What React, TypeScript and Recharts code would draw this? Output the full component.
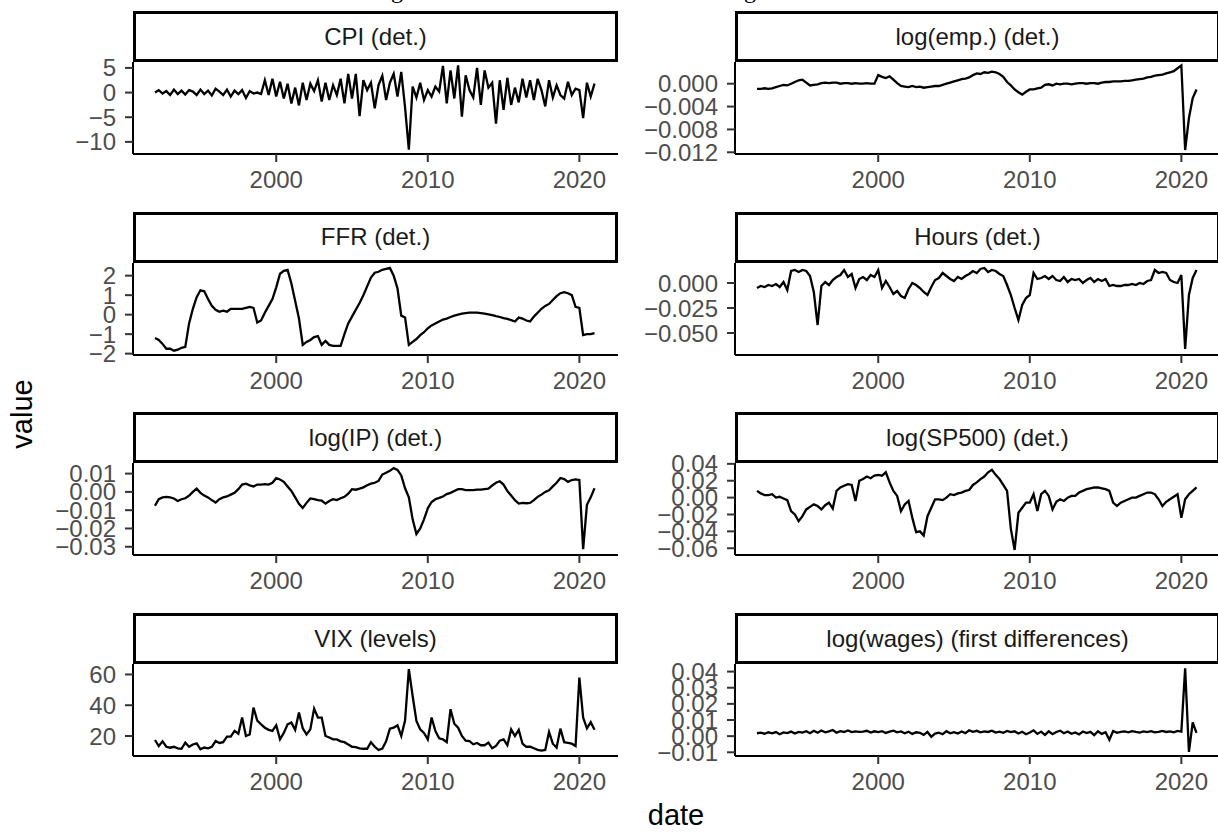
import { LineChart, Line, XAxis, YAxis } from 'recharts';

// quarterly readings, first point = 1992.0
const START_YEAR = 1992;
const STEP = 0.25;

const cpi = [
  0, 0.5, -0.2, 0.3,
  -0.5, 0.6, -0.3, 0.4,
  -0.4, 0.5, 0.2, -0.5,
  0.6, -0.3, 0.4, -0.6,
  0.8, 0.2, -0.5, 0.6,
  -0.8, 0.4, -0.3, 0.5,
  -1.1, 0.3, -0.2, 0,
  -0.3, 2.5, -0.5, 2.8,
  -0.8, 2.2, -1.2, 1.8,
  -2.2, 1.0, -2.6, 2.0,
  -1.5, 1.8, 0.3, 2.5,
  -1.8, 2.0, -1.5, 1.5,
  -0.5, 2.8, -2.2, 3.8,
  -1.2, 3.8, -4.8, 2.5,
  0.5, 2.0, -3.2, 1.5,
  3.4, -1.5, 2.0, 3.8,
  -0.8, 4.2, -3.0, -11.6,
  1.2, -1.0, 2.0, -1.5,
  0.5, -0.8, 1.2, 0.2,
  5.4, -2.2, 4.5, -1.2,
  5.5, -4.9, 3.5, 0.5,
  -1.0, 5.0, -2.5, 4.5,
  1.0, 2.0, -6.3, 2.5,
  -3.5, 3.0, -2.5, 1.0,
  -2.0, 2.8, -1.0, 2.5,
  -1.5, 2.8, 0.5, -2.8,
  2.5, -1.0, 1.5, -0.5,
  -1.2, 2.2, -0.5, 0.8,
  0.5, -5.2, 2.0, -0.8,
  1.8,
];

const emp = [
  -0.0009, -0.0009, -0.0008, -0.0009,
  -0.0008, -0.0006, -0.0004, -0.0002,
  -0.0003, 0.0, 0.0003, 0.0006,
  0.0007, 0.0002, -0.0003, -0.0002,
  -0.0001, 0.0001, 0.0002, 0.0001,
  0.0002, 0.0002, 0.0, 0.0001,
  0.0001, 0.0, 0.0001, 0.0,
  0.0, 0.0001, 0.0, 0.0,
  0.0015, 0.0012, 0.001, 0.0013,
  0.0007, 0.0001, -0.0004, -0.0005,
  -0.0006, -0.0004, -0.0006, -0.0005,
  -0.0007, -0.0006, -0.0005, -0.0004,
  -0.0004, -0.0002, 0.0, 0.0002,
  0.0004, 0.0006, 0.0008, 0.0009,
  0.0011, 0.0015, 0.0018, 0.0017,
  0.002, 0.0019, 0.0021, 0.002,
  0.0017, 0.0012, 0.0003, -0.0003,
  -0.001, -0.0015, -0.0019, -0.0014,
  -0.001, -0.001, -0.0008, -0.0007,
  -0.0002, -0.0001, -0.0003, 0.0,
  -0.0001, 0.0, 0.0, -0.0001,
  0.0, 0.0001, 0.0001, 0.0,
  0.0001, 0.0001, 0.0, 0.0002,
  0.0003, 0.0003, 0.0004, 0.0004,
  0.0004, 0.0005, 0.0005, 0.0006,
  0.0007, 0.0008, 0.0009, 0.0011,
  0.0012, 0.0014, 0.0015, 0.0016,
  0.0018, 0.002, 0.0022, 0.0027,
  0.0032, -0.0116, -0.006, -0.0025,
  -0.001,
];

const ffr = [
  -1.2, -1.3, -1.5, -1.75,
  -1.75, -1.85, -1.8, -1.7,
  -1.65, -0.45, 0.3, 0.9,
  1.25, 1.2, 0.8, 0.45,
  0.25, 0.15, 0.2, 0.15,
  0.3, 0.3, 0.3, 0.3,
  0.35, 0.4, 0.35, -0.4,
  -0.3, 0.1, 0.45, 0.8,
  1.4, 2.1, 2.25, 2.3,
  1.6, 0.7, -0.2, -1.55,
  -1.4, -1.3, -1.15, -1.1,
  -1.55, -1.35, -1.55, -1.6,
  -1.6, -1.6, -1.0, -0.45,
  -0.1, 0.25, 0.6, 1.0,
  1.45, 1.9, 2.15, 2.2,
  2.3, 2.35, 2.4, 2.0,
  1.35, -0.05, -0.15, -1.55,
  -1.4, -1.25, -1.05, -0.9,
  -0.7, -0.55, -0.45, -0.35,
  -0.25, -0.2, -0.12, -0.05,
  0, 0.05, 0.08, 0.1,
  0.1, 0.1, 0.08, 0.05,
  0.02, -0.03, -0.08, -0.12,
  -0.18, -0.22, -0.28, -0.35,
  -0.15, -0.2, -0.3, -0.35,
  -0.1, 0.1, 0.3, 0.45,
  0.55, 0.75, 0.95, 1.1,
  1.15, 1.1, 1.0, 0.4,
  0.35, -1.05, -1.0, -1.0,
  -0.95,
];

const hours = [
  -0.005, -0.003, -0.004, -0.002,
  -0.003, -0.001, -0.004, 0.001,
  -0.007, 0.012, 0.013, 0.011,
  0.013, 0.012, 0.007, -0.009,
  -0.042, -0.003, 0.001, -0.002,
  0.003, 0.006, 0.008, 0.013,
  0.006, 0.009, -0.005, 0.004,
  0.006, 0.003, 0.008, 0.006,
  0.013, -0.005, 0.002, -0.004,
  -0.011, -0.008, -0.013, -0.015,
  -0.006, 0.0, -0.002, -0.005,
  -0.009, -0.012, -0.004, 0.003,
  0.005, 0.01, 0.007, 0.004,
  0.002, 0.006, 0.004, 0.007,
  0.009, 0.012, 0.01, 0.014,
  0.015, 0.011, 0.013, 0.012,
  0.009, 0.007, -0.002, -0.012,
  -0.025, -0.037, -0.022, -0.015,
  -0.012, 0.01, 0.004, 0.005,
  0.007, 0.004, 0.007, 0.003,
  0.002, 0.006, 0.001, 0.004,
  0.003, 0.004, 0.0, 0.003,
  0.005, 0.001, 0.004, 0.002,
  0.004, -0.003, -0.002, -0.003,
  -0.003, -0.002, -0.002, -0.001,
  -0.002, 0.0, -0.001, 0.002,
  0.003, 0.013, 0.01, 0.011,
  0.01, 0.003, 0.001, 0.0,
  0.008, -0.066, -0.012, 0.005,
  0.013,
];

const ip = [
  -0.0076, -0.004, -0.003, -0.0027,
  -0.003, -0.0036, -0.005, -0.004,
  -0.0035, -0.002, 0.0, 0.0018,
  -0.0005, -0.002, -0.003, -0.0045,
  -0.0058, -0.004, -0.003, -0.0025,
  -0.0015, -0.0005, 0.0015, 0.004,
  0.0045, 0.0036, 0.003, 0.004,
  0.004, 0.0042, 0.004, 0.005,
  0.0075, 0.0068, 0.0055, 0.003,
  0.0005, -0.003, -0.0065, -0.0088,
  -0.006, -0.0036, -0.004, -0.0045,
  -0.0048, -0.0064, -0.005, -0.004,
  -0.0045, -0.0035, -0.0027, -0.001,
  0.0015, 0.0012, 0.0018, 0.0025,
  0.0036, 0.0045, 0.005, 0.006,
  0.0095, 0.0105, 0.0115, 0.013,
  0.012, 0.009, 0.002, -0.003,
  -0.015, -0.023, -0.02, -0.015,
  -0.009, -0.0055, -0.004, -0.0033,
  -0.0025, -0.0012, -0.0005, 0.0005,
  0.0015, 0.0015, 0.001, 0.001,
  0.001, 0.0012, 0.0012, 0.0015,
  0.0018, 0.0035, 0.005, 0.0058,
  0.004, 0.0005, -0.002, -0.0045,
  -0.0064, -0.006, -0.0062, -0.006,
  -0.0045, -0.0027, -0.0015, 0.0,
  0.0009, 0.003, 0.005, 0.0076,
  0.007, 0.0055, 0.0065, 0.0068,
  0.0065, -0.0313, -0.007, -0.003,
  0.002,
];

const sp500 = [
  0.008, 0.005, 0.003, 0.003,
  0.004, 0.0, 0.001, -0.001,
  -0.003, -0.016, -0.02, -0.028,
  -0.022, -0.014, -0.011, -0.008,
  -0.01, -0.014, -0.009, -0.006,
  -0.013, 0.008, 0.012, 0.014,
  0.016, 0.015, -0.004, 0.02,
  0.022, 0.025, 0.023, 0.026,
  0.027, 0.026, 0.03, 0.018,
  0.008, 0.002, -0.016, -0.008,
  -0.004, -0.024, -0.041, -0.04,
  -0.045, -0.022, -0.012, -0.002,
  -0.002, -0.003, 0.0, 0.004,
  0.003, 0.005, 0.006, 0.008,
  0.009, 0.015, 0.018, 0.022,
  0.025, 0.03, 0.033, 0.027,
  0.022, 0.015, 0.008, -0.037,
  -0.062, -0.018, -0.012, -0.006,
  -0.006, 0.004, -0.016, 0.004,
  0.008, 0.002, -0.014, -0.005,
  -0.002, -0.004, 0.0, 0.002,
  0.002, 0.006, 0.008, 0.01,
  0.011, 0.012, 0.012, 0.011,
  0.01, 0.008, -0.006, -0.01,
  -0.006, -0.004, -0.002, 0.0,
  0.0, 0.002, 0.004, 0.006,
  0.006, 0.004, -0.002, -0.01,
  -0.005, -0.002, 0.001, 0.004,
  -0.024, -0.002, 0.004, 0.008,
  0.012,
];

const vix = [
  17.4, 13.5, 16.5, 13.0,
  12.4, 13.0, 12.0, 11.7,
  15.7, 13.0, 14.5, 15.2,
  11.3, 12.5, 12.0, 13.0,
  16.7, 15.5, 16.0, 19.6,
  19.6, 23.3, 21.5, 32.0,
  20.0, 21.0, 38.5, 30.0,
  27.6, 25.4, 24.0, 23.3,
  27.0, 17.8, 22.0, 27.6,
  28.7, 24.0, 35.2, 25.0,
  21.0, 24.3, 37.8, 32.0,
  32.0, 20.0, 19.0, 17.8,
  17.8, 16.5, 16.0, 14.5,
  13.0, 12.8, 12.0, 11.7,
  11.7, 16.0, 13.0, 10.9,
  11.8, 16.5, 24.8, 25.4,
  27.0, 20.0, 30.0, 63.5,
  46.0, 29.8, 24.3, 22.0,
  17.8, 32.0, 23.3, 18.5,
  17.8, 16.0, 37.4, 28.0,
  25.4, 20.0, 17.0, 16.7,
  14.6, 15.5, 14.0, 14.0,
  15.7, 12.0, 13.5, 17.0,
  17.8, 14.0, 24.3, 20.0,
  24.0, 15.0, 13.0, 13.0,
  12.0, 11.0, 10.5, 10.9,
  22.6, 15.0, 12.5, 24.8,
  16.0, 15.5, 15.0, 13.5,
  58.0, 32.0, 25.0, 29.0,
  24.0,
];

const wages = [
  0.0018, 0.0022, 0.0015, 0.0024,
  0.0017, 0.0025, 0.0012, 0.0023,
  0.0019, 0.0028, 0.0016, 0.0026,
  0.0022, 0.0031, 0.0018, 0.0033,
  0.0021, 0.0035, 0.0024, 0.003,
  0.0038, 0.0022, 0.0031, 0.0026,
  0.0035, 0.0025, 0.003, 0.0027,
  0.0028, 0.0033, 0.0022, 0.003,
  0.0025, 0.0031, 0.002, 0.0028,
  0.0034, 0.0024, 0.0029, 0.0018,
  0.0027, 0.0014, 0.0024, 0.0021,
  0.0008, 0.0026, -0.0004, 0.0016,
  0.0022, 0.0012, 0.0031, 0.0018,
  0.0025, 0.0016, 0.0029, 0.0019,
  0.0036, 0.0027, 0.0033, 0.0024,
  0.003, 0.0026, 0.0034, 0.0022,
  0.0028, 0.0021, 0.0032, 0.0025,
  0.003, 0.0016, 0.0027, 0.0012,
  0.0022, 0.0036, 0.0014, 0.0028,
  0.0008, 0.003, 0.0012, 0.0026,
  0.0034, 0.0018, 0.0029, 0.0015,
  0.0023, 0.0011, 0.0029, 0.0019,
  0.0027, 0.0006, 0.003, 0.0014,
  0.0024, -0.0022, 0.0032, 0.0021,
  0.0027, 0.003, 0.0024, 0.0031,
  0.0026, 0.0022, 0.0029, 0.0025,
  0.0031, 0.0024, 0.0027, 0.0033,
  0.0026, 0.003, 0.0024, 0.0032,
  0.0028, 0.042, -0.0098, 0.0085,
  0.002,
];

const titles = [
  'CPI (det.)',
  'log(emp.) (det.)',
  'FFR (det.)',
  'Hours (det.)',
  'log(IP) (det.)',
  'log(SP500) (det.)',
  'VIX (levels)',
  'log(wages) (first differences)',
];

const xTicks = [2000, 2010, 2020];
const xDomain = [1990.55, 2022.55];

const cpiTicks = [-10, -5, 0, 5];
const empTicks = [-0.012, -0.008, -0.004, 0];
const ffrTicks = [-2, -1, 0, 1, 2];
const hoursTicks = [-0.05, -0.025, 0];
const ipTicks = [-0.03, -0.02, -0.01, 0, 0.01];
const sp500Ticks = [-0.06, -0.04, -0.02, 0, 0.02, 0.04];
const vixTicks = [20, 40, 60];
const wagesTicks = [-0.01, 0, 0.01, 0.02, 0.03, 0.04];

// layout (px)
const COL_X = [133, 735];
const PANEL_W = 485;
const PANEL_H = 92;
const ROW_Y0 = 62;
const ROW_PITCH = 200.7;
const STRIP_H = 51;
const YW = 110;
const XH = 50;
const MT = 20; // room above the plot so top tick labels are not clipped

const TICK_FONT = 24;
const FONT = 'Liberation Sans, Arial, Helvetica, sans-serif';

const fmt = (digits: number) => (v: number) =>
  (v < 0 ? '\u2212' : '') + Math.abs(v).toFixed(digits);

const panels = [
  { values: cpi, ticks: cpiTicks, domain: [-12.46, 6.2], digits: 0 },
  { values: emp, ticks: empTicks, domain: [-0.0123, 0.0038], digits: 3 },
  { values: ffr, ticks: ffrTicks, domain: [-2.07, 2.65], digits: 0 },
  { values: hours, ticks: hoursTicks, domain: [-0.072, 0.02], digits: 3 },
  { values: ip, ticks: ipTicks, domain: [-0.0345, 0.0158], digits: 2 },
  { values: sp500, ticks: sp500Ticks, domain: [-0.068, 0.041], digits: 2 },
  { values: vix, ticks: vixTicks, domain: [7, 66.8], digits: 0 },
  { values: wages, ticks: wagesTicks, domain: [-0.0123, 0.0447], digits: 2 },
];

function Panel({ index }: { index: number }) {
  const p = panels[index];
  const col = index % 2;
  const row = Math.floor(index / 2);
  const left = COL_X[col];
  const top = ROW_Y0 + row * ROW_PITCH;
  const rows = p.values.map((v, i) => ({ date: START_YEAR + i * STEP, value: v }));

  return (
    <>
      <div
        style={{
          position: 'absolute',
          left,
          top: top - STRIP_H,
          width: PANEL_W,
          height: STRIP_H,
          border: '3px solid #000',
          boxSizing: 'border-box',
          background: '#fff',
          display: 'flex',
          alignItems: 'center',
          justifyContent: 'center',
          fontFamily: FONT,
          fontSize: TICK_FONT,
          color: '#1a1a1a',
        }}
      >
        {titles[index]}
      </div>
      <div style={{ position: 'absolute', left: left - YW, top: top - MT }}>
        <LineChart
          width={PANEL_W + YW}
          height={PANEL_H + XH + MT}
          data={rows}
          margin={{ top: MT, right: 0, bottom: 0, left: 0 }}
        >
          <XAxis
            dataKey="date"
            type="number"
            domain={xDomain}
            ticks={xTicks}
            allowDataOverflow
            interval={0}
            height={XH}
            tickSize={8}
            tickMargin={9}
            axisLine={{ stroke: '#000', strokeWidth: 2 }}
            tickLine={{ stroke: '#333', strokeWidth: 2 }}
            tick={{ fill: '#4d4d4d', fontSize: TICK_FONT, fontFamily: FONT }}
          />
          <YAxis
            type="number"
            domain={p.domain}
            ticks={p.ticks}
            allowDataOverflow
            interval={0}
            width={YW}
            tickSize={8}
            tickMargin={9}
            tickFormatter={fmt(p.digits)}
            axisLine={{ stroke: '#000', strokeWidth: 2 }}
            tickLine={{ stroke: '#333', strokeWidth: 2 }}
            tick={{ fill: '#4d4d4d', fontSize: TICK_FONT, fontFamily: FONT }}
          />
          <Line
            type="linear"
            dataKey="value"
            stroke="#000"
            strokeWidth={2.3}
            dot={false}
            isAnimationActive={false}
          />
        </LineChart>
      </div>
    </>
  );
}

export default function App() {
  return (
    <div
      style={{
        position: 'fixed',
        left: 0,
        top: 0,
        width: 1218,
        height: 836,
        overflow: 'hidden',
        background: '#fff',
      }}
    >
      {panels.map((_, i) => (
        <Panel key={i} index={i} />
      ))}
      <svg
        width={1218}
        height={836}
        style={{ position: 'absolute', left: 0, top: 0, pointerEvents: 'none' }}
      >
        {/* bottoms of a cut-off heading above the figure */}
        <text x={397} y={-2} textAnchor="middle" fontFamily="Liberation Serif" fontSize={24}>g</text>
        <text x={750} y={-2} textAnchor="middle" fontFamily="Liberation Serif" fontSize={24}>g</text>
        <text
          x={22}
          y={414}
          transform="rotate(-90 22 414)"
          textAnchor="middle"
          dominantBaseline="central"
          fontFamily={FONT}
          fontSize={29}
          fill="#000"
        >
          value
        </text>
        <text
          x={676}
          y={825}
          textAnchor="middle"
          fontFamily={FONT}
          fontSize={29}
          fill="#000"
        >
          date
        </text>
      </svg>
    </div>
  );
}
